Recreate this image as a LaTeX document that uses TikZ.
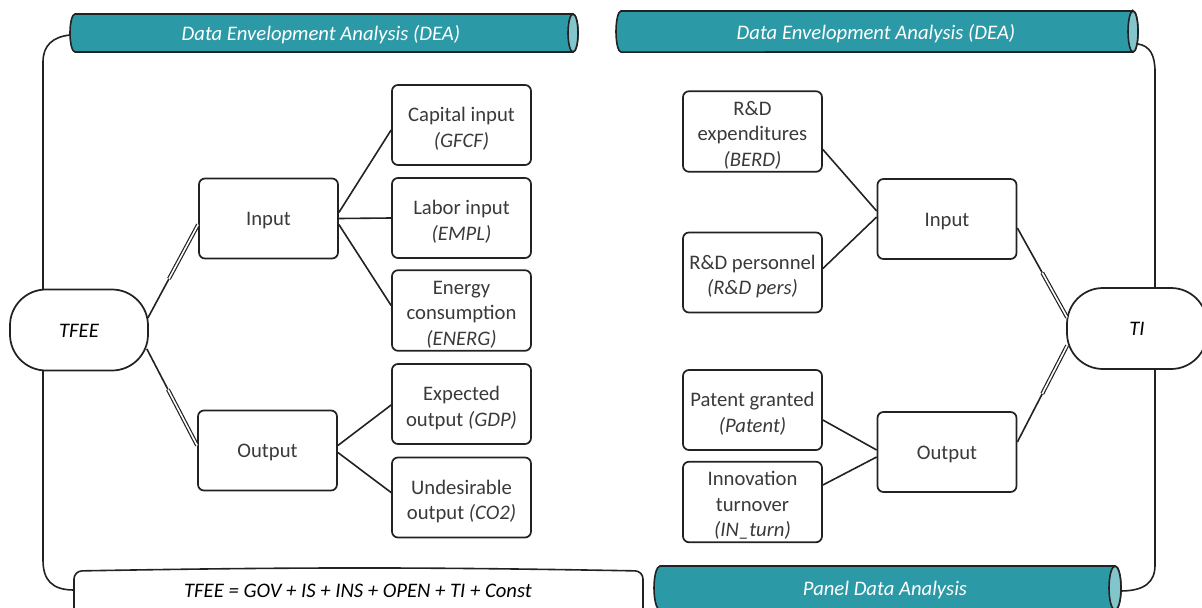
\documentclass[tikz,border=0pt]{standalone}
\usepackage{fontspec}
\setmainfont{Carlito}
\usetikzlibrary{calc}
\definecolor{teal1}{HTML}{2C9AA6}
\definecolor{tealcap}{HTML}{82C6CC}
\definecolor{txtgray}{HTML}{3A3A3A}
\definecolor{linec}{HTML}{222222}
\newcommand\toprule{\rule{0pt}{18pt}}
\tikzset{
  vfix/.style={execute at begin node={\rule{0pt}{15.2pt}}, execute at end node={\rule[-4pt]{0pt}{4pt}}},
  box/.style={draw=linec, line width=1.3pt, rounded corners=4.5pt, fill=white,
    minimum width=139*0.75pt, minimum height=80*0.75pt, align=center,
    text=txtgray, font=\fontsize{15.5pt}{19.2pt}\selectfont, inner xsep=1pt, inner ysep=0pt, vfix},
  pill/.style={draw=linec, line width=1.3pt, rounded corners=27pt, fill=white,
    minimum width=138*0.75pt, minimum height=81*0.75pt, text=black,
    font=\fontsize{15.5pt}{19.2pt}\selectfont\itshape, inner sep=1pt, vfix},
  link/.style={draw=linec, line width=1.2pt},
  dbl/.style={draw=linec, line width=0.9pt, double=white, double distance=1.2pt},
  cyl/.style={draw=linec, line width=1.2pt, fill=teal1},
  cylcap/.style={draw=linec, line width=1.2pt, fill=tealcap},
  cyltext/.style={text=white, font=\fontsize{15.5pt}{19.2pt}\selectfont\itshape, inner sep=1pt, vfix},
}
\begin{document}
\begin{tikzpicture}[x=0.75pt,y=-0.75pt]
\useasboundingbox (0,0) rectangle (1202,607);

% outer connectors
\coordinate (l1) at (70,35);
\coordinate (l2) at (74,590);
\coordinate (r1) at (1138,44);
\coordinate (r2) at (1120,591);
\draw[link] (l1) .. controls (52,37) and (43,46) .. (43,62) -- (43,560) .. controls (43,580) and (52,590) .. (l2);
\draw[link] (r1) .. controls (1150,46) and (1155,55) .. (1155,72) -- (1155,565) .. controls (1155,582) and (1145,591) .. (r2);

% cylinders
\path[cyl] (573,14) -- (75,14) arc[start angle=90,end angle=270,x radius=3.75pt,y radius=14.25pt] -- (573,52) arc[start angle=-90,end angle=90,x radius=3.75pt,y radius=14.25pt] -- cycle;
\path[cylcap] (573,33) ellipse[x radius=3.75pt,y radius=14.25pt];
\node[cyltext] (dea1) at (321,33) {Data Envelopment Analysis (DEA)};

\path[cyl] (1133,11) -- (621,11) arc[start angle=90,end angle=270,x radius=3.75pt,y radius=15.4pt] -- (1133,52) arc[start angle=-90,end angle=90,x radius=3.75pt,y radius=15.4pt] -- cycle;
\path[cylcap] (1133,31.5) ellipse[x radius=3.75pt,y radius=15.4pt];
\node[cyltext] (dea2) at (876,32) {Data Envelopment Analysis (DEA)};

\path[cyl] (1115,566) -- (660,566) arc[start angle=90,end angle=270,x radius=4.5pt,y radius=16.5pt] -- (1115,610) arc[start angle=-90,end angle=90,x radius=4.5pt,y radius=16.5pt] -- cycle;
\path[cylcap] (1115,588) ellipse[x radius=4.5pt,y radius=16.5pt];
\node[cyltext] (pda) at (885,588) {Panel Data Analysis};

% formula box
\draw[link, fill=white, rounded corners=6pt] (74,625) -- (74,571) .. controls (300,567) and (420,567) .. (643,571) -- (643,625);
\node[font=\fontsize{15.5pt}{19.2pt}\selectfont\itshape, text=black, inner sep=1pt, vfix] (formula) at (358,590)
  {TFEE = GOV + IS + INS + OPEN + TI + Const};

% left nodes
\node[pill] (tfee) at (79,330) {TFEE};
\node[box] (inL) at (268.5,218.5) {Input};
\node[box] (outL) at (267.5,450.5) {Output};
\node[box] (cap) at (461.5,125) {\toprule Capital input\\\textit{(GFCF)}};
\node[box] (lab) at (461.5,218) {\toprule Labor input\\\textit{(EMPL)}};
\node[box] (ene) at (461.5,310.5) {\toprule Energy\\consumption\\\textit{(ENERG)}};
\node[box] (exp) at (461.5,404) {\toprule Expected\\output \textit{(GDP)}};
\node[box] (und) at (461.5,497.5) {\toprule Undesirable\\output \textit{(CO2)}};

% right nodes
\node[box] (berd) at (752.5,131.5) {\toprule R\&D\\expenditures\\\textit{(BERD)}};
\node[box] (pers) at (752.5,272.5) {\toprule R\&D personnel\\\textit{(R\&D pers)}};
\node[box] (inR) at (947,219) {Input};
\node[box] (pat) at (752.5,410) {\toprule Patent granted\\\textit{(Patent)}};
\node[box] (turn) at (752.5,502) {\toprule Innovation\\turnover\\\textit{(IN\_turn)}};
\node[box] (outR) at (947,452) {Output};
\node[pill, minimum width=140*0.75pt] (ti) at (1137,328.5) {TI};

% left connectors
\coordinate (a1) at ($(tfee.east)+(-1,-12)$);
\coordinate (b1) at ($(inL.west)+(0,6)$);
\draw[link] (a1) -- ($(a1)!0.42!(b1)$);
\draw[dbl] ($(a1)!0.42!(b1)$) -- (b1);
\coordinate (a2) at ($(tfee.east)+(-2,19)$);
\coordinate (b2) at ($(outL.west)+(0,-5)$);
\draw[link] (a2) -- ($(a2)!0.42!(b2)$);
\draw[dbl] ($(a2)!0.42!(b2)$) -- (b2);

\draw[link] ($(inL.east)+(0,-6)$) -- ($(cap.west)+(0,5)$);
\draw[link] (inL.east) -- (lab.west);
\draw[link] ($(inL.east)+(0,6)$) -- ($(ene.west)+(0,-5)$);
\draw[link] ($(outL.east)+(0,-5)$) -- ($(exp.west)+(0,1)$);
\draw[link] ($(outL.east)+(0,2)$) -- ($(und.west)+(0,-5)$);

% right connectors
\draw[link] ($(berd.east)+(0,18)$) -- ($(inR.west)+(0,-8)$);
\draw[link] ($(pers.east)+(0,-4)$) -- ($(inR.west)+(0,-2)$);
\draw[link] ($(pat.east)+(0,10)$) -- ($(outR.west)+(0,-2)$);
\draw[link] ($(turn.east)+(0,-17)$) -- ($(outR.west)+(0,5)$);

\coordinate (c1) at ($(inR.east)+(0,9)$);
\coordinate (d1) at ($(ti.west)+(1,-11)$);
\draw[link] (c1) -- ($(c1)!0.5!(d1)$);
\draw[dbl] ($(c1)!0.5!(d1)$) -- (d1);
\coordinate (c2) at ($(outR.east)+(0,-10)$);
\coordinate (d2) at ($(ti.west)+(1,17)$);
\draw[link] (c2) -- ($(c2)!0.5!(d2)$);
\draw[dbl] ($(c2)!0.5!(d2)$) -- (d2);
\end{tikzpicture}
\end{document}
